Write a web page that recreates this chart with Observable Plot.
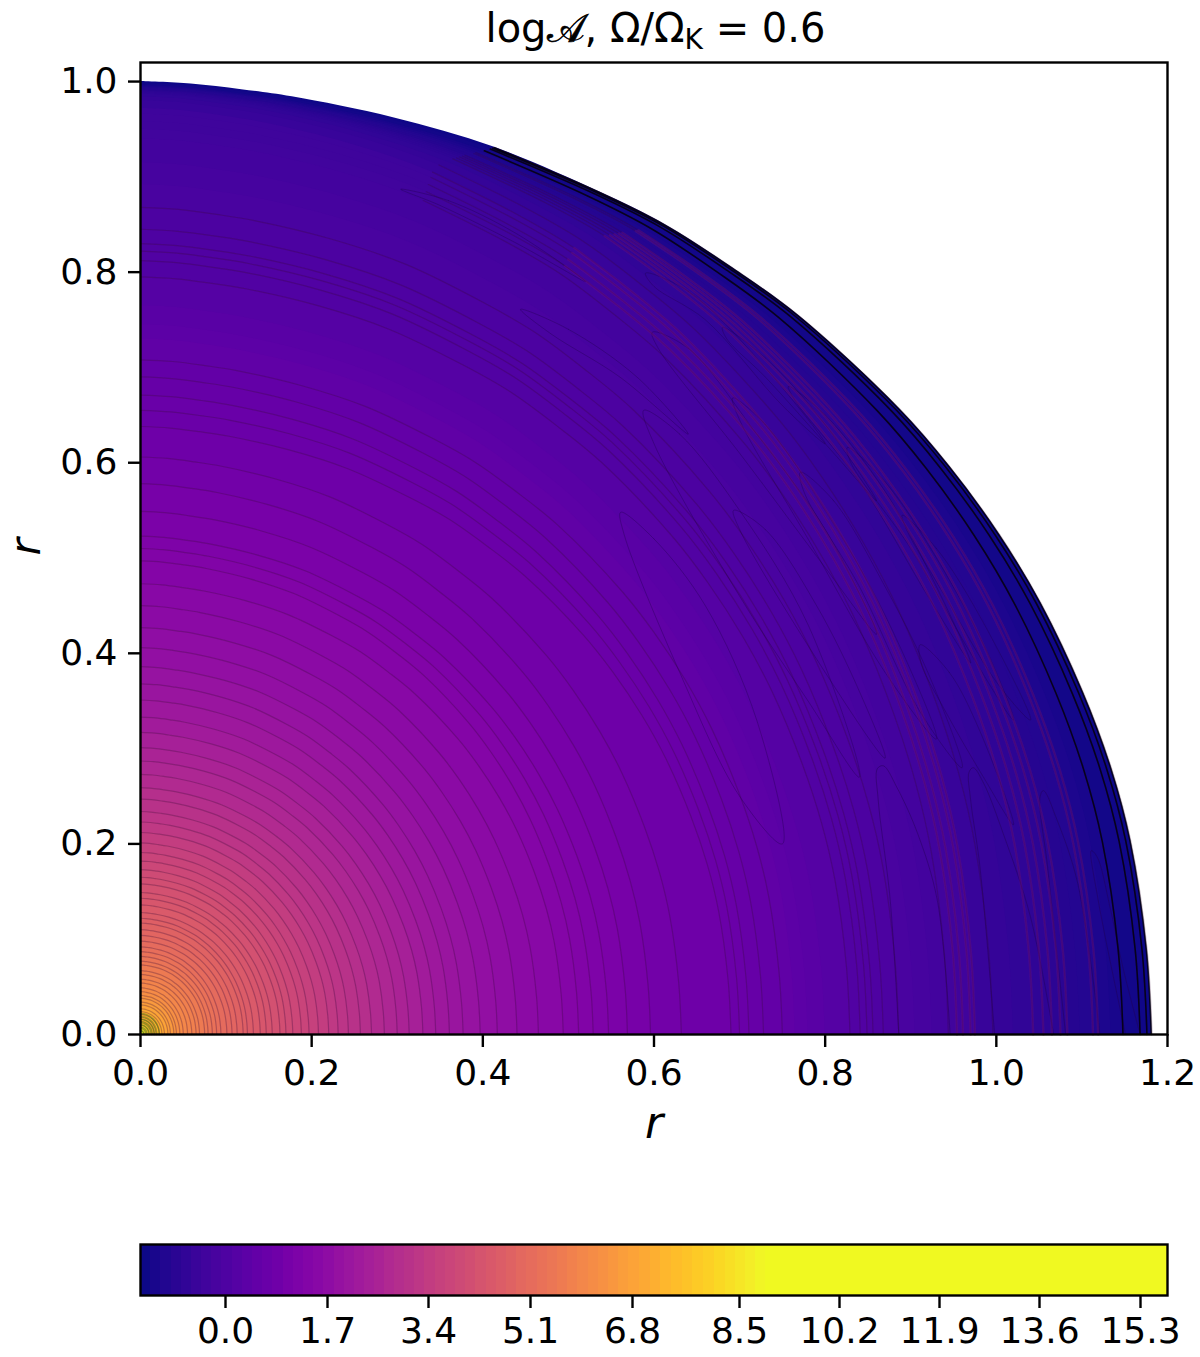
<!DOCTYPE html>
<html>
<head>
<meta charset="utf-8">
<script src="https://cdn.jsdelivr.net/npm/d3@7"></script>
<script src="https://cdn.jsdelivr.net/npm/@observablehq/plot@0.6"></script>
<style>
html,body{margin:0;padding:0;background:#fff;}
#title{height:60px;width:1031px;margin-left:140px;text-align:center;font-family:"DejaVu Sans";font-size:40px;line-height:56px;color:#000;white-space:nowrap;}
#title sub{font-size:28px;line-height:0;vertical-align:-7px;}
#title span{-webkit-text-stroke:0.7px #000;}
svg{display:block;}
</style>
</head>
<body>
<div id="title">log<span>𝒜</span>, Ω/Ω<sub>K</sub> = 0.6</div>
<div id="chart"></div>
<div id="bar"></div>
<script>
// unit outline of the star
const outlineX = [0,0.05,0.10,0.15,0.25,0.35,0.454,0.52,0.586,0.65,0.75,0.80,0.849,0.89,0.932,0.96,0.979,0.995,1];
const outlineY = [1,0.9975,0.9915,0.984,0.962,0.931,0.884,0.849,0.804,0.755,0.657,0.596,0.525,0.453,0.359,0.279,0.203,0.09,0];

// contours: crossing on the x axis, crossing on the y axis, value of the band inside (outer to inner)
const ringA = [1.182,1.176,1.168,1.148,1.119,1.113,1.083,1.075,1.065,1.055,1.043,0.996,0.975,0.970,0.961,0.954,0.944,0.886,0.868,0.856,0.849,0.841,0.829,0.75,0.728,0.711,0.70,0.69,0.632,0.596,0.569,0.547,0.529,0.512,0.494,0.465,0.440,0.417,0.397,0.377,0.361,0.345,0.330,0.314,0.300,0.285,0.270,0.257,0.243,0.231,0.220,0.208,0.197,0.188,0.178,0.170,0.163,0.154,0.147,0.140,0.132,0.125,0.120,0.113,0.107,0.101,0.094,0.089,0.084,0.079,0.075,0.069,0.065,0.060,0.055,0.050,0.046,0.042,0.039,0.035,0.032,0.028,0.025,0.022,0.018,0.016,0.014,0.012,0.010,0.008,0.006,0.004];
const ringB = [1.000,0.999,0.998,0.996,0.994,0.993,0.991,0.990,0.989,0.988,0.987,0.980,0.972,0.966,0.958,0.950,0.940,0.868,0.845,0.830,0.822,0.812,0.795,0.708,0.690,0.671,0.655,0.638,0.606,0.578,0.549,0.523,0.510,0.497,0.473,0.450,0.427,0.406,0.386,0.368,0.351,0.333,0.317,0.301,0.287,0.273,0.259,0.247,0.234,0.223,0.212,0.201,0.191,0.182,0.173,0.165,0.158,0.149,0.143,0.136,0.128,0.122,0.117,0.110,0.104,0.098,0.092,0.087,0.082,0.077,0.073,0.067,0.063,0.058,0.054,0.049,0.045,0.041,0.038,0.034,0.031,0.027,0.024,0.021,0.018,0.016,0.014,0.012,0.010,0.008,0.006,0.004];
const ringV = [-1.42,-1.35,-1.30,-1.22,-1.08,-1.04,-0.92,-0.88,-0.84,-0.80,-0.76,-0.60,-0.47,-0.45,-0.42,-0.38,-0.34,-0.12,-0.06,-0.02,0.00,0.03,0.08,0.45,0.52,0.60,0.66,0.72,0.84,0.98,1.10,1.20,1.27,1.34,1.45,1.55,1.66,1.76,1.86,1.96,2.06,2.20,2.33,2.46,2.60,2.73,2.86,2.99,3.12,3.25,3.38,3.51,3.64,3.77,3.90,4.00,4.10,4.20,4.30,4.40,4.50,4.60,4.70,4.80,4.90,5.00,5.10,5.20,5.30,5.40,5.50,5.60,5.70,5.80,5.90,6.00,6.15,6.30,6.45,6.60,6.75,6.90,7.05,7.20,7.35,7.50,7.70,7.90,8.10,8.40,8.70,9.00];

// colour steps between contours where no line is drawn
const stepA = [1.134,1.098,1.02,0.925,0.905,0.80,0.78,0.765];
const stepB = [0.995,0.992,0.984,0.915,0.892,0.765,0.745,0.73];
const stepV = [-1.15,-0.98,-0.68,-0.27,-0.20,0.20,0.28,0.36];

// dark rim contours, reddish bundles of contours, dark contours at the core
const rimA = [1.181,1.176,1.168,1.148];
const rimB = [0.9995,0.999,0.998,0.996];
const bundleA = [1.119,1.113,1.083,1.075,1.065,1.055,1.043,0.975,0.970,0.961,0.954];
const bundleB = [0.994,0.993,0.991,0.990,0.989,0.988,0.987,0.972,0.966,0.958,0.950];
const coreA = [0.022,0.019,0.016,0.013,0.010,0.007,0.004];
const coreB = [0.022,0.019,0.016,0.013,0.010,0.007,0.004];

// tongues rising from the equator
const tongueX = [
 [0.886,0.876,0.862,0.861,0.868,0.884,0.908,0.931,0.946],
 [0.998,0.981,0.970,0.968,0.973,0.985,1.008,1.040,1.067],
 [1.081,1.060,1.051,1.055,1.071,1.095,1.121],
 [1.151,1.119,1.111,1.118,1.133,1.148,1.168]];
const tongueY = [
 [0,0.141,0.246,0.279,0.282,0.259,0.211,0.141,0],
 [0,0.175,0.246,0.275,0.280,0.264,0.211,0.123,0],
 [0,0.175,0.249,0.256,0.225,0.159,0],
 [0,0.141,0.193,0.186,0.133,0.070,0]];

// closed lens contours
const lensX = [
 [0.561,0.60,0.66,0.72,0.75,0.70,0.63,0.565],
 [0.588,0.63,0.70,0.78,0.84,0.78,0.70,0.60],
 [0.598,0.64,0.72,0.80,0.86,0.80,0.70,0.605],
 [0.692,0.73,0.80,0.87,0.93,0.87,0.78,0.70],
 [0.771,0.81,0.87,0.92,0.96,0.91,0.84,0.775],
 [0.693,0.73,0.79,0.84,0.87,0.80,0.70],
 [0.59,0.64,0.72,0.80,0.75,0.66,0.60],
 [0.68,0.73,0.80,0.86,0.81,0.73,0.685],
 [0.757,0.80,0.87,0.93,0.97,0.92,0.84,0.765],
 [0.826,0.87,0.93,0.99,1.02,0.97,0.90,0.83],
 [0.89,0.93,0.98,1.04,1.00,0.94,0.895],
 [0.911,0.945,0.98,1.02,0.985,0.94,0.912],
 [0.304,0.36,0.44,0.52,0.44,0.35],
 [0.444,0.50,0.58,0.64,0.56,0.48]];
const lensY = [
 [0.548,0.52,0.45,0.33,0.20,0.25,0.38,0.525],
 [0.655,0.63,0.55,0.43,0.27,0.35,0.46,0.62],
 [0.737,0.72,0.63,0.53,0.42,0.49,0.61,0.72],
 [0.668,0.64,0.55,0.44,0.31,0.38,0.52,0.645],
 [0.59,0.56,0.47,0.38,0.28,0.34,0.47,0.57],
 [0.55,0.53,0.45,0.36,0.29,0.38,0.53],
 [0.799,0.78,0.71,0.62,0.66,0.75,0.785],
 [0.742,0.71,0.64,0.56,0.61,0.69,0.73],
 [0.68,0.65,0.57,0.47,0.39,0.46,0.58,0.665],
 [0.616,0.58,0.50,0.40,0.33,0.40,0.51,0.60],
 [0.545,0.51,0.44,0.33,0.37,0.46,0.53],
 [0.409,0.38,0.32,0.22,0.27,0.34,0.39],
 [0.887,0.875,0.84,0.79,0.83,0.87],
 [0.761,0.74,0.69,0.63,0.69,0.735]];

const axisTicks = [0,0.2,0.4,0.6,0.8,1.0,1.2];
const yTicks = [0,0.2,0.4,0.6,0.8,1.0];

// colour bar
const barLevels = [-1.42,-1.25,-1.08,-0.91,-0.74,-0.57,-0.40,-0.23,-0.06,0.11,0.28,0.45,0.62,0.79,0.96,1.13,1.30,1.47,1.64,1.81,1.98,2.15,2.32,2.49,2.66,2.83,3.00,3.17,3.34,3.51,3.68,3.85,4.02,4.19,4.36,4.53,4.70,4.87,5.04,5.21,5.38,5.55,5.72,5.89,6.06,6.23,6.40,6.57,6.74,6.91,7.08,7.25,7.42,7.59,7.76,7.93,8.10,8.27,8.44,8.61,8.78,8.95,15.76];
const barTicks = [0,1.7,3.4,5.1,6.8,8.5,10.2,11.9,13.6,15.3];
const barDomain = [-1.42,0,1.7,3.4,5.1,6.8,8.5,10.2,11.9,13.6,15.3,15.76];
const barPixels = [140,225,327,428,530,632,739,839,939,1039,1140,1167];

const colorScale = {type:"linear", domain:[-1.42,8.9], interpolate:d3.interpolatePlasma, clamp:true};
const font = {fontFamily:"DejaVu Sans", fontSize:36};

const contourRow = (a,b,v,i) => outlineX.map((ux,j)=>({ring:i,x:a*ux,y:b*outlineY[j],ux,base:0,v}));
const rings = ringA.flatMap((a,i)=>contourRow(a,ringB[i],ringV[i],i));
const steps = stepA.flatMap((a,i)=>contourRow(a,stepB[i],stepV[i],1000+i));
const fills = [...rings,...steps].sort((p,q)=>d3.descending(p.ring<1000?ringA[p.ring]:stepA[p.ring-1000],q.ring<1000?ringA[q.ring]:stepA[q.ring-1000]));
const lines = (as,bs)=>as.flatMap((a,i)=>contourRow(a,bs[i],0,i));
const loops = (xs,ys)=>xs.flatMap((row,i)=>row.map((x,j)=>({id:i,x,y:ys[i][j]})));

const chart = Plot.plot({
  width:1200, height:1090,
  marginLeft:140, marginRight:33, marginTop:2, marginBottom:116,
  style:{background:"#fff",color:"#000",overflow:"visible"},
  x:{domain:[0,1.2]}, y:{domain:[0,1.02]},
  color:colorScale,
  marks:[
    Plot.areaY(fills,{x:"x",y1:"base",y2:"y",z:"ring",fill:"v",curve:"catmull-rom"}),
    Plot.line(rings.filter(p=>p.ring>=17||p.ux>=0.35),{x:"x",y:"y",z:"ring",stroke:"#3a0a3a",strokeOpacity:0.3,strokeWidth:1.2,curve:"catmull-rom"}),
    Plot.line(loops(tongueX,tongueY),{x:"x",y:"y",z:"id",stroke:"#20004a",strokeOpacity:0.4,strokeWidth:1,curve:"catmull-rom"}),
    Plot.line(loops(lensX,lensY),{x:"x",y:"y",z:"id",stroke:"#20004a",strokeOpacity:0.35,strokeWidth:1,curve:"catmull-rom-closed"}),
    Plot.line(lines(bundleA,bundleB).filter(p=>p.ux>=0.52),{x:"x",y:"y",z:"ring",stroke:"#7a1080",strokeOpacity:0.3,strokeWidth:2.5,curve:"catmull-rom"}),
    Plot.line(lines(rimA,rimB).filter(p=>p.ux>=0.35),{x:"x",y:"y",z:"ring",stroke:"#000",strokeOpacity:0.75,strokeWidth:1.6,curve:"catmull-rom"}),
    Plot.line(lines(coreA,coreB),{x:"x",y:"y",z:"ring",stroke:"#2f6a10",strokeOpacity:0.4,strokeWidth:1.6,curve:"catmull-rom"}),
    Plot.frame({stroke:"#000",strokeWidth:2.4}),
    Plot.axisX({ticks:axisTicks,tickFormat:".1f",tickSize:13,tickPadding:12,strokeWidth:2.4,label:null,...font}),
    Plot.axisY({ticks:yTicks,tickFormat:".1f",tickSize:12,tickPadding:11,strokeWidth:2.4,label:null,...font}),
    Plot.text(["r"],{frameAnchor:"bottom",dy:103,fontFamily:"DejaVu Sans",fontStyle:"italic",fontSize:44,fill:"#000"}),
    Plot.text(["r"],{frameAnchor:"left",dx:-114,dy:7,rotate:-90,fontFamily:"DejaVu Sans",fontStyle:"italic",fontSize:42,fill:"#000"})
  ]
});
document.getElementById("chart").appendChild(chart);

const barPosition = d3.scaleLinear(barDomain,barPixels);
const barRows = barLevels.slice(0,-1).map((v,i)=>({x1:barPosition(v),x2:barPosition(barLevels[i+1]),v,y1:0,y2:1}));
const bar = Plot.plot({
  width:1200, height:207,
  marginTop:94, marginBottom:62, marginLeft:140, marginRight:33,
  style:{background:"#fff",color:"#000",overflow:"visible"},
  x:{domain:[140,1167], range:[140,1167]},
  y:{domain:[0,1],axis:null},
  color:colorScale,
  marks:[
    Plot.rect(barRows,{x1:"x1",x2:"x2",y1:"y1",y2:"y2",fill:"v",shapeRendering:"crispEdges"}),
    Plot.frame({stroke:"#000",strokeWidth:2.4}),
    Plot.axisX({ticks:barTicks.map(barPosition),tickFormat:p=>barTicks[barTicks.map(barPosition).indexOf(p)].toFixed(1),tickSize:13,tickPadding:9,strokeWidth:2.4,label:null,...font})
  ]
});
document.getElementById("bar").appendChild(bar);
</script>
</body>
</html>
